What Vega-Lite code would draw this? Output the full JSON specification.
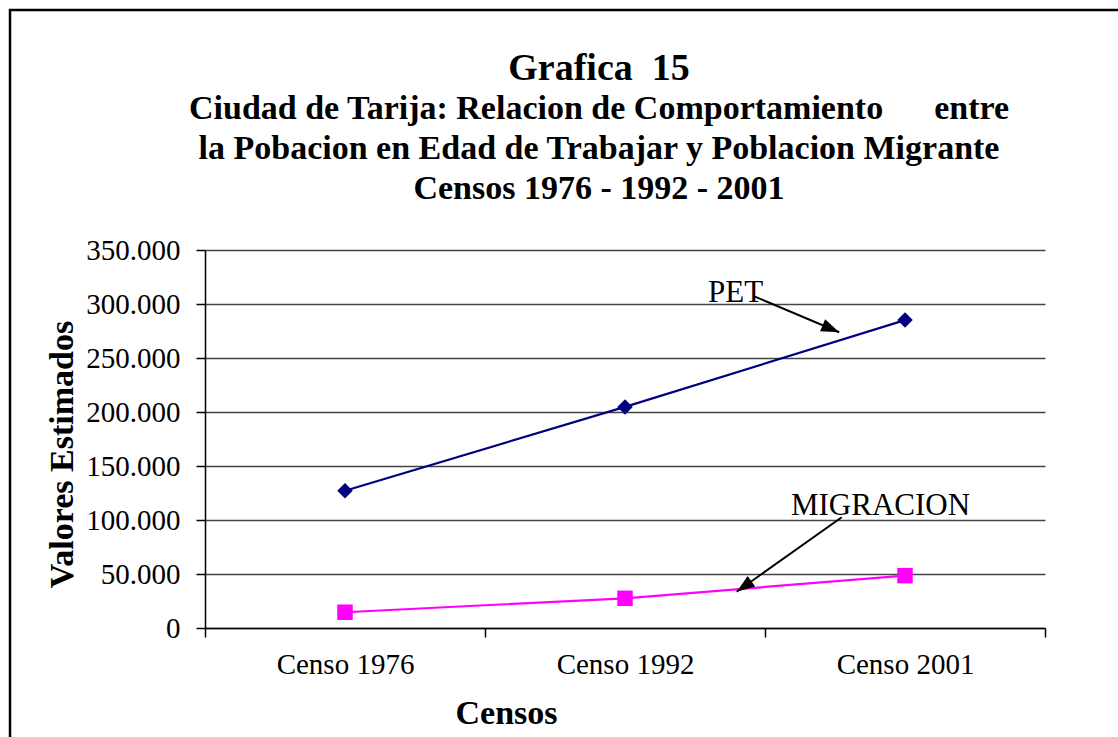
{
  "$schema": "https://vega.github.io/schema/vega-lite/v6.json",
  "width": 840,
  "height": 378,
  "autosize": {"type": "none"},
  "padding": {"left": 205, "top": 250, "right": 73, "bottom": 109},
  "background": "white",
  "config": {"view": {"stroke": null}, "font": "Liberation Serif"},
  "title": {
    "text": "Grafica\u00a0 15",
    "subtitle": [
      "Ciudad de Tarija: Relacion de Comportamiento\u00a0\u00a0\u00a0\u00a0\u00a0 entre",
      "la Pobacion en Edad de Trabajar y Poblacion Migrante",
      "Censos 1976 - 1992 - 2001"
    ],
    "anchor": "middle",
    "frame": "group",
    "dx": -26,
    "offset": -197,
    "font": "Liberation Serif",
    "fontSize": 38,
    "fontWeight": "bold",
    "color": "black",
    "subtitleFont": "Liberation Serif",
    "subtitleFontSize": 34,
    "subtitleFontWeight": "bold",
    "subtitleColor": "black",
    "subtitleLineHeight": 40,
    "subtitlePadding": 4
  },
  "datasets": {
    "series": [
      {"censo": "Censo 1976", "serie": "PET", "valor": 127100},
      {"censo": "Censo 1992", "serie": "PET", "valor": 204700},
      {"censo": "Censo 2001", "serie": "PET", "valor": 285100},
      {"censo": "Censo 1976", "serie": "MIGRACION", "valor": 14600},
      {"censo": "Censo 1992", "serie": "MIGRACION", "valor": 27500},
      {"censo": "Censo 2001", "serie": "MIGRACION", "valor": 48500}
    ],
    "notes": [
      {"serie": "PET", "lx": 1.895, "ly": 301900, "x1": 1.964, "y1": 306800, "x2": 2.265, "y2": 273800},
      {"serie": "MIGRACION", "lx": 2.4125, "ly": 104600, "x1": 2.274, "y1": 102500, "x2": 1.899, "y2": 33600}
    ]
  },
  "layer": [
    {
      "data": {"name": "series"},
      "encoding": {
        "x": {
          "field": "censo",
          "type": "nominal",
          "sort": null,
          "scale": {"type": "band", "paddingInner": 0, "paddingOuter": 0},
          "axis": {
            "title": "Censos",
            "tickBand": "extent",
            "labelAngle": 0,
            "labelFont": "Liberation Serif",
            "labelFontSize": 29,
            "labelColor": "black",
            "labelPadding": 13,
            "tickSize": 9,
            "tickColor": "black",
            "tickWidth": 1.5,
            "domainColor": "black",
            "domainWidth": 1.5,
            "grid": false,
            "titleFont": "Liberation Serif",
            "titleFontSize": 34,
            "titleFontWeight": "bold",
            "titleColor": "black",
            "titleX": 301,
            "titleY": 95,
            "titleAlign": "center",
            "titleBaseline": "alphabetic"
          }
        },
        "y": {
          "field": "valor",
          "type": "quantitative",
          "scale": {"domain": [0, 350000], "nice": false},
          "axis": {
            "title": "Valores Estimados",
            "values": [0, 50000, 100000, 150000, 200000, 250000, 300000, 350000],
            "labelExpr": "replace(format(datum.value, ',d'), ',', '.')",
            "labelFont": "Liberation Serif",
            "labelFontSize": 29,
            "labelColor": "black",
            "labelPadding": 16,
            "tickSize": 9,
            "tickColor": "black",
            "tickWidth": 1.5,
            "domainColor": "black",
            "domainWidth": 1.5,
            "grid": true,
            "gridColor": "#444444",
            "gridWidth": 1.5,
            "titleFont": "Liberation Serif",
            "titleFontSize": 34,
            "titleFontWeight": "bold",
            "titleColor": "black",
            "titleX": -133,
            "titleY": 204,
            "titleAlign": "center",
            "titleBaseline": "alphabetic"
          }
        },
        "color": {
          "field": "serie",
          "type": "nominal",
          "scale": {"domain": ["PET", "MIGRACION"], "range": ["#000080", "#FF00FF"]},
          "legend": null
        }
      },
      "layer": [
        {"mark": {"type": "line", "strokeWidth": 2.2}},
        {
          "mark": {"type": "point", "filled": true, "opacity": 1, "size": 240},
          "encoding": {
            "shape": {
              "field": "serie",
              "type": "nominal",
              "scale": {"domain": ["PET", "MIGRACION"], "range": ["diamond", "square"]},
              "legend": null
            }
          }
        }
      ]
    },
    {
      "layer": [
        {
          "data": {"values": [{}]},
          "mark": {"type": "rect", "fill": null, "stroke": "black", "strokeWidth": 2.5},
          "encoding": {
            "x": {"datum": -0.6964, "type": "quantitative", "scale": {"domain": [0, 3], "nice": false, "zero": false}, "axis": null},
            "x2": {"datum": 3.6},
            "y": {"datum": 572200, "type": "quantitative", "scale": {"domain": [0, 350000], "nice": false}, "axis": null},
            "y2": {"datum": -113000}
          }
        },
        {
          "data": {"name": "notes"},
          "encoding": {
            "x": {"field": "x1", "type": "quantitative", "scale": {"domain": [0, 3], "nice": false, "zero": false}, "axis": null},
            "y": {"field": "y1", "type": "quantitative", "scale": {"domain": [0, 350000], "nice": false}, "axis": null}
          },
          "layer": [
            {
              "mark": {"type": "rule", "color": "black", "strokeWidth": 2},
              "encoding": {"x2": {"field": "x2"}, "y2": {"field": "y2"}}
            },
            {
              "transform": [{"filter": "datum.serie == 'PET'"}],
              "mark": {"type": "point", "shape": "M0,0L-2,-0.72L-2,0.72Z", "filled": true, "color": "black", "opacity": 1, "size": 324, "angle": 22.9},
              "encoding": {
                "x": {"field": "x2", "type": "quantitative"},
                "y": {"field": "y2", "type": "quantitative"}
              }
            },
            {
              "transform": [{"filter": "datum.serie == 'MIGRACION'"}],
              "mark": {"type": "point", "shape": "M0,0L-2,-0.72L-2,0.72Z", "filled": true, "color": "black", "opacity": 1, "size": 324, "angle": 144.7},
              "encoding": {
                "x": {"field": "x2", "type": "quantitative"},
                "y": {"field": "y2", "type": "quantitative"}
              }
            },
            {
              "mark": {"type": "text", "font": "Liberation Serif", "fontSize": 31, "color": "black", "align": "center", "baseline": "alphabetic"},
              "encoding": {
                "x": {"field": "lx", "type": "quantitative"},
                "y": {"field": "ly", "type": "quantitative"},
                "text": {"field": "serie"}
              }
            }
          ]
        }
      ]
    }
  ],
  "resolve": {"scale": {"x": "independent", "y": "independent"}, "axis": {"x": "independent", "y": "independent"}}
}
